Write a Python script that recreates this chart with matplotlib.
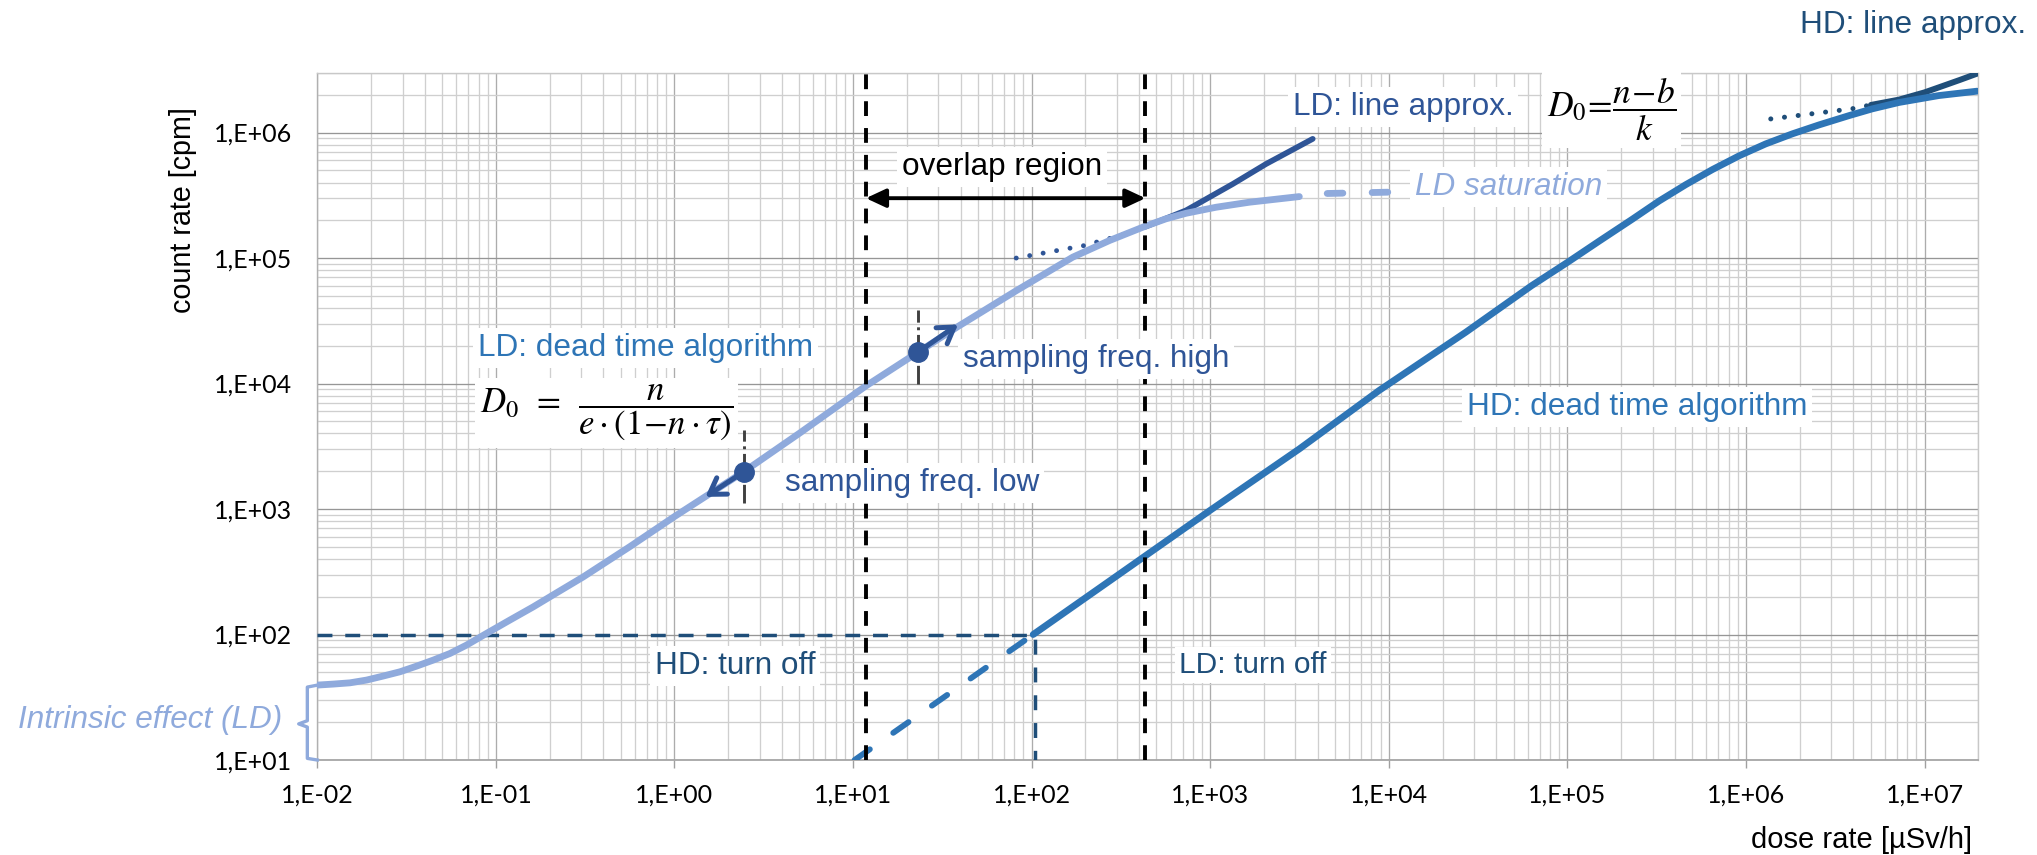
import matplotlib
matplotlib.use('Agg')
import matplotlib.pyplot as plt
import matplotlib.transforms as mtransforms
from matplotlib.ticker import FixedLocator, FixedFormatter, LogLocator, NullFormatter

plt.rcParams['font.family'] = ['Liberation Sans', 'DejaVu Sans']
plt.rcParams['mathtext.fontset'] = 'stix'

W, H, DPI = 2037, 855, 100

# ---------------- data ----------------
# LD probe, dead time algorithm: dose rate [uSv/h] -> count rate [cpm]
ld_dose = [0.01, 0.0123, 0.01524, 0.01888, 0.02339, 0.02904, 0.03597, 0.04457,
           0.05534, 0.06855, 0.08872, 0.1197, 0.1618, 0.2234, 0.3083, 0.5623,
           1.0, 2.438, 5.082, 11.78, 23.12, 38.73, 82.04, 169.8, 272.9, 433.5,
           566.2, 732.8, 1079, 1656, 3155]
ld_rate = [39.54, 40.27, 41.21, 43.35, 46.67, 50.47, 55.98, 62.52,
           70.63, 82.41, 102.1, 130.3, 166.0, 218.8, 287.7, 501.2,
           871.0, 1977, 4074, 9550, 17780, 28510, 54950, 101600, 138000, 179500,
           205600, 227500, 254100, 278600, 309000]
# LD saturation (dashed continuation)
ld_sat_dose = [4520, 9980]
ld_sat_rate = [327000, 335000]
# LD line approximation (dotted part, solid part)
ld_lin_dot_dose = [82.0, 115.6, 197.7, 331, 434]
ld_lin_dot_rate = [100000, 109400, 125900, 154900, 177800]
ld_lin_dose = [434, 733, 1337, 2056, 3750]
ld_lin_rate = [177800, 239900, 389000, 562300, 891000]
# HD probe, dead time algorithm (solid) and extension below turn-off (dashed)
hd_dose = [102, 316, 1000, 3162, 8850, 27040, 63100, 100000, 150700, 231200,
           326600, 460300, 648600, 916200, 1.291e6, 1.820e6, 2.564e6, 3.776e6,
           5.093e6, 7.194e6, 1.202e7, 1.972e7]
hd_rate = [100, 309, 977, 3020, 8830, 25700, 60300, 92300, 136500, 204200,
           285100, 384600, 507000, 653100, 812800, 977200, 1.151e6, 1.365e6,
           1.545e6, 1.738e6, 1.972e6, 2.138e6]
hd_off_dose = [10.2, 102]
hd_off_rate = [10, 100]
# HD line approximation (dotted part, solid part)
hd_lin_dot_dose = [1.377e6, 3.94e6, 5.01e6]
hd_lin_dot_rate = [1.285e6, 1.549e6, 1.66e6]
hd_lin_dose = [5.01e6, 7.19e6, 1.0e7, 1.2e7, 1.58e7, 1.97e7]
hd_lin_rate = [1.66e6, 1.83e6, 2.09e6, 2.29e6, 2.63e6, 2.95e6]
# thresholds / regions
hd_turnoff_rate = 100
hd_turnoff_dose = 105
overlap_dose = [11.8, 434]
overlap_arrow_rate = 3.0e5
# sampling-frequency markers
samp_dose = [2.44, 23.1]
samp_rate = [1977, 17780]
samp_tip_dose = [1.49, 38.7]
samp_tip_rate = [1250, 29600]
samp_bar_lo = [1110, 10000]
samp_bar_hi = [4240, 38300]
# intrinsic effect bracket (count rate span)
intrinsic_lo, intrinsic_mid, intrinsic_hi = 10, 19.4, 39.5

x_ticks = [1e-2, 1e-1, 1e0, 1e1, 1e2, 1e3, 1e4, 1e5, 1e6, 1e7]
x_tick_labels = ['1,E-02', '1,E-01', '1,E+00', '1,E+01', '1,E+02', '1,E+03',
                 '1,E+04', '1,E+05', '1,E+06', '1,E+07']
y_ticks = [1e1, 1e2, 1e3, 1e4, 1e5, 1e6]
y_tick_labels = ['1,E+01', '1,E+02', '1,E+03', '1,E+04', '1,E+05', '1,E+06']
x_limits = [1e-2, 2e7]
y_limits = [1e1, 3e6]

# ---------------- styling ----------------
C_LD = '#8FAADC'
C_HD = '#2E75B6'
C_LDA = '#2F5597'
C_HDA = '#1F4E79'
FS = 22.7
LW = 4.9

fig = plt.figure(figsize=(W / DPI, H / DPI), dpi=DPI)
ax = fig.add_axes([317.3 / W, 1 - 760 / H, (1978.3 - 317.3) / W, (760 - 72.7) / H])
ax.set_xscale('log')
ax.set_yscale('log')
ax.set_xlim(x_limits)
ax.set_ylim(y_limits)

ax.xaxis.set_major_locator(FixedLocator(x_ticks))
ax.xaxis.set_major_formatter(FixedFormatter(x_tick_labels))
ax.yaxis.set_major_locator(FixedLocator(y_ticks))
ax.yaxis.set_major_formatter(FixedFormatter(y_tick_labels))
for axis in (ax.xaxis, ax.yaxis):
    axis.set_minor_locator(LogLocator(base=10, subs=range(2, 10), numticks=60))
    axis.set_minor_formatter(NullFormatter())

ax.set_axisbelow(True)
ax.xaxis.grid(True, which='major', color='#ACACAC', lw=0.95)
ax.yaxis.grid(True, which='major', color='#969696', lw=0.95)
ax.grid(True, which='minor', color='#CFCFCF', lw=0.95)

ax.tick_params(axis='x', which='major', length=5.8, width=1.0, color='#A0A0A0',
               pad=11.5, labelsize=18, labelfontfamily='Lato', labelcolor='black')
ax.tick_params(axis='y', which='major', length=0, pad=18, labelsize=18,
               labelfontfamily='Lato', labelcolor='black')
ax.tick_params(which='minor', length=0)
for s in ax.spines.values():
    s.set_color('#C8C8C8')
    s.set_linewidth(1.0)
ax.spines['bottom'].set_color('#A6A6A6')
ax.spines['bottom'].set_linewidth(1.3)
ax.spines['left'].set_color('#B0B0B0')

# turn-off markers
ax.plot([x_limits[0], hd_turnoff_dose, hd_turnoff_dose],
        [hd_turnoff_rate, hd_turnoff_rate, y_limits[0]],
        color=C_HDA, lw=2.5, linestyle=(0, (4.3, 3.7)), dash_capstyle='butt', zorder=3)

# LD line approximation
ax.plot(ld_lin_dot_dose, ld_lin_dot_rate, color=C_LDA, lw=3.5,
        linestyle=(0, (0.01, 2.8)), dash_capstyle='round', zorder=3)
ax.plot(ld_lin_dose, ld_lin_rate, color=C_LDA, lw=4.1, solid_capstyle='round', zorder=3)
# LD dead time curve + saturation
ax.plot(ld_dose, ld_rate, color=C_LD, lw=LW, solid_capstyle='round',
        solid_joinstyle='round', zorder=4)
ax.plot(ld_sat_dose, ld_sat_rate, color=C_LD, lw=LW, linestyle=(0, (2.3, 4.3)),
        dash_capstyle='round', zorder=4)

# HD line approximation
ax.plot(hd_lin_dot_dose, hd_lin_dot_rate, color=C_HDA, lw=3.6,
        linestyle=(0, (0.01, 2.75)), dash_capstyle='round', zorder=3)
ax.plot(hd_lin_dose, hd_lin_rate, color=C_HDA, lw=4.3, solid_capstyle='round', zorder=3)
# HD dead time curve + extension
ax.plot(hd_dose, hd_rate, color=C_HD, lw=LW, solid_capstyle='round',
        solid_joinstyle='round', zorder=4)
ax.plot(hd_off_dose, hd_off_rate, color=C_HD, lw=4.2, linestyle=(0, (3.2, 4.9)),
        dash_capstyle='round', zorder=4)

# overlap region borders
for d in overlap_dose:
    ax.axvline(d, color='black', lw=2.8, linestyle=(0, (3.8, 3.1)), zorder=5)
ax.annotate('', xy=(overlap_dose[1], overlap_arrow_rate),
            xytext=(overlap_dose[0], overlap_arrow_rate),
            arrowprops=dict(arrowstyle='<|-|>,head_length=0.6,head_width=0.28',
                            mutation_scale=20, color='black', lw=2.8,
                            shrinkA=0, shrinkB=0), zorder=6)

# sampling frequency markers
for i in range(len(samp_dose)):
    ax.plot([samp_dose[i], samp_dose[i]], [samp_bar_lo[i], samp_bar_hi[i]],
            color='#404040', lw=2.1, linestyle='-.', zorder=5)
    ax.annotate('', xy=(samp_tip_dose[i], samp_tip_rate[i]),
                xytext=(samp_dose[i], samp_rate[i]),
                arrowprops=dict(arrowstyle='->,head_length=0.55,head_width=0.35',
                                mutation_scale=20, color=C_LDA, lw=3.6,
                                shrinkA=0, shrinkB=0), zorder=7)
ax.plot(samp_dose, samp_rate, linestyle='none', marker='o', ms=14,
        color=C_LDA, zorder=8)

# intrinsic effect brace (left of the axes)
trans = mtransforms.blended_transform_factory(ax.transAxes, ax.transData)
ax.plot([0, -0.006, -0.006, -0.0112, -0.006, -0.006, 0],
        [intrinsic_hi, intrinsic_hi * 0.965, intrinsic_mid * 1.06, intrinsic_mid,
         intrinsic_mid / 1.06, intrinsic_lo * 1.03, intrinsic_lo],
        transform=trans, clip_on=False, color=C_LD, lw=2.4,
        solid_joinstyle='round', zorder=6)

# ---------------- texts ----------------
BOX = dict(boxstyle='square,pad=0.15', fc='white', ec='none')


def ftext(x, y, s, **kw):
    kw.setdefault('fontsize', FS)
    kw.setdefault('va', 'baseline')
    kw.setdefault('ha', 'left')
    fig.text(x / W, 1 - y / H, s, **kw)


ftext(478, 356, 'LD: dead time algorithm', color=C_HD, bbox=BOX)
ftext(785, 491, 'sampling freq. low', color=C_LDA, bbox=BOX)
ftext(963, 367, 'sampling freq. high', color=C_LDA, bbox=BOX)
ftext(902, 175, 'overlap region', color='black', bbox=BOX)
ftext(1293, 115, 'LD: line approx.', color=C_LDA, bbox=BOX)
ftext(1415, 195, 'LD saturation', color=C_LD, style='italic', bbox=BOX)
ftext(2026, 33, 'HD: line approx.', color=C_HDA, ha='right')
ftext(1467, 415, 'HD: dead time algorithm', color=C_HD, bbox=BOX)
ftext(655, 674, 'HD: turn off', color=C_HDA, bbox=BOX)
ftext(1179, 673, 'LD: turn off', color=C_HDA, fontsize=21.5, bbox=BOX)
ftext(18, 728, 'Intrinsic effect (LD)', color=C_LD, style='italic')

ftext(480, 413, r'$D_0\enspace=\enspace\dfrac{n}{e\cdot\left(1\!-\!n\cdot\tau\right)}$',
      fontsize=25, va='center', color='black',
      bbox=dict(boxstyle='square,pad=0.15', fc='white', ec='none'))
ftext(1547, 110, r'$D_0\!=\!\dfrac{n\!-\!b}{k}$', fontsize=25.5, va='center',
      color='black', bbox=dict(boxstyle='square,pad=0.15', fc='white', ec='none'))

# axis titles
ftext(183, 210, 'count rate [cpm]', rotation=90, ha='center', va='center',
      fontsize=20.7, color='black')
ftext(1972, 848, 'dose rate [\u00b5Sv/h]', ha='right', fontsize=21, color='black')

fig.savefig('out.png', dpi=DPI, facecolor='white')
